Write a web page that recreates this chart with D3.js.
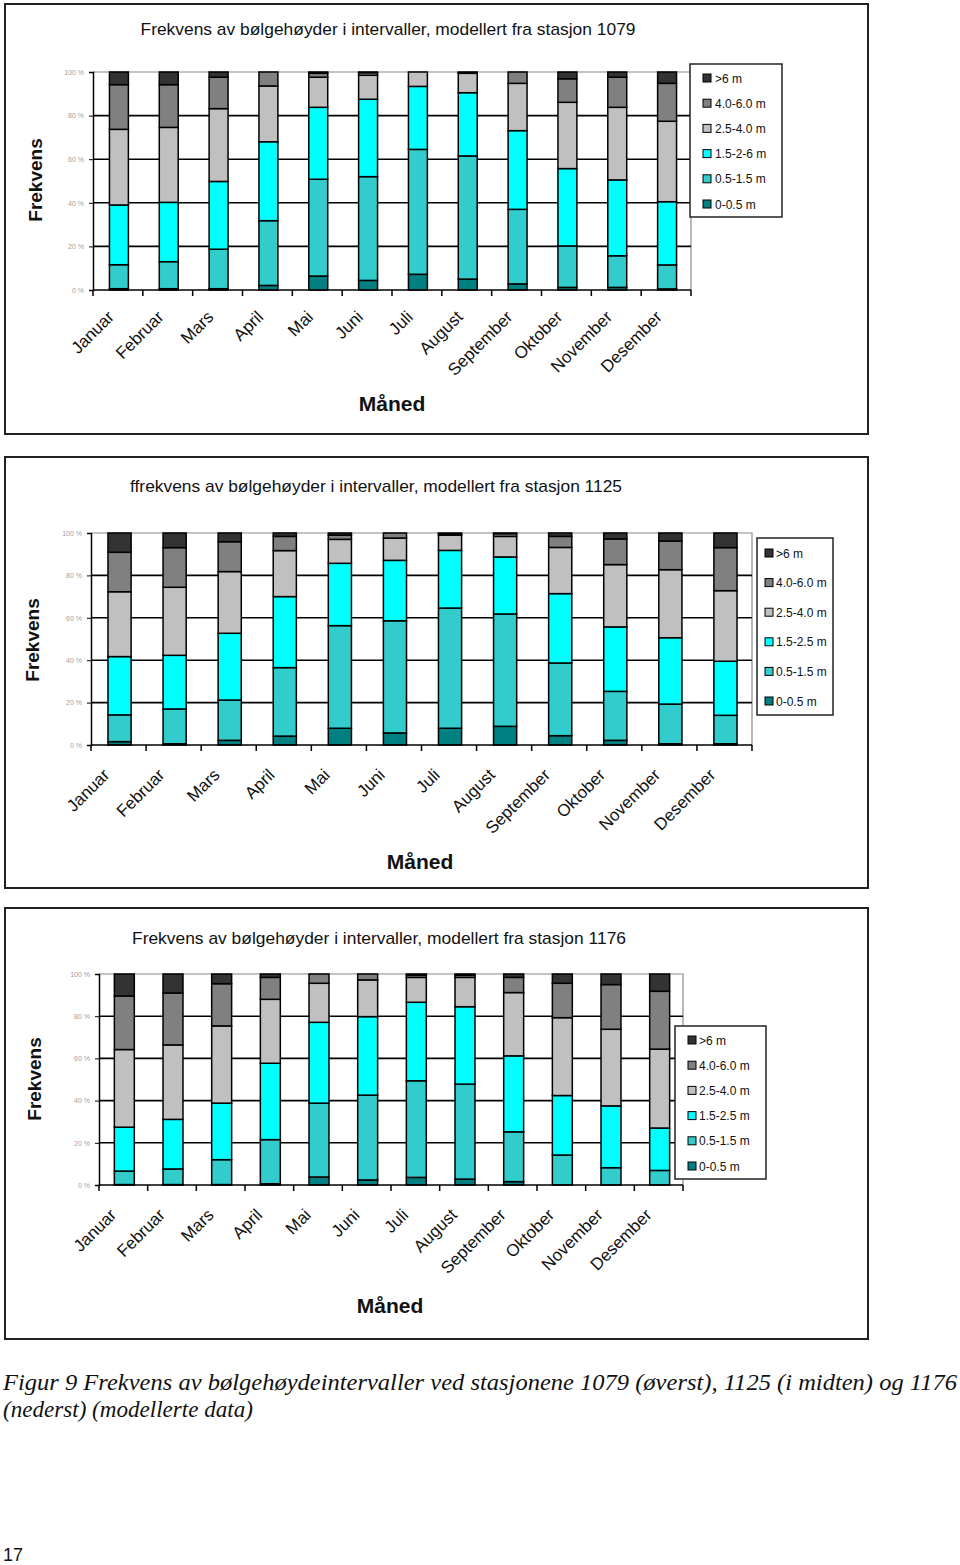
<!DOCTYPE html>
<html><head><meta charset="utf-8">
<script src="https://cdn.jsdelivr.net/npm/d3@7"></script>
<style>
html,body{margin:0;padding:0;background:#fff;}
svg{display:block;}
</style></head>
<body>
<svg id="page" width="960" height="1565"></svg>
<script>
// ---------- DATA ----------
const months = ["Januar","Februar","Mars","April","Mai","Juni","Juli","August","September","Oktober","November","Desember"];
const seriesKeys = ["s0","s1","s2","s3","s4","s5"]; // bottom -> top
const legend1079 = ["0-0.5 m","0.5-1.5 m","1.5-2-6 m","2.5-4.0 m","4.0-6.0 m",">6 m"];
const legendStd  = ["0-0.5 m","0.5-1.5 m","1.5-2.5 m","2.5-4.0 m","4.0-6.0 m",">6 m"];
const yTicks = [0,20,40,60,80,100];

// Station 1079 (% per month, per interval)
const st1079_0_05  = [0.6,0.6,0.6,2.1,6.4,4.4,7.2,5.0,2.8,1.2,1.2,0.5];
const st1079_05_15 = [11.0,12.4,18.1,29.7,44.4,47.6,57.3,56.5,34.2,19.0,14.5,11.0];
const st1079_15_25 = [27.4,27.2,31.1,36.2,33.0,35.5,28.9,29.0,36.1,35.5,34.8,29.0];
const st1079_25_40 = [34.7,34.4,33.4,25.6,13.8,11.0,6.6,8.9,21.7,30.4,33.3,36.9];
const st1079_40_60 = [20.5,19.6,14.4,6.4,1.8,1.2,0.0,0.3,5.2,10.8,13.8,17.4];
const st1079_gt6   = [5.8,5.8,2.4,0.0,0.6,0.3,0.0,0.3,0.0,3.1,2.4,5.2];

// Station 1125
const st1125_0_05  = [1.6,0.6,2.2,4.2,7.9,5.7,7.9,8.8,4.4,2.2,0.6,0.6];
const st1125_05_15 = [12.6,16.4,19.0,32.3,48.4,52.9,56.7,53.0,34.3,23.1,18.7,13.4];
const st1125_15_25 = [27.5,25.3,31.5,33.5,29.4,28.5,27.2,26.9,32.7,30.4,31.3,25.5];
const st1125_25_40 = [30.6,32.1,29.1,21.7,11.3,10.5,7.2,9.7,21.8,29.4,32.1,33.3];
const st1125_40_60 = [18.6,18.7,14.1,6.7,2.0,2.4,0.5,1.3,5.2,12.1,13.5,20.3];
const st1125_gt6   = [9.1,6.9,4.1,1.6,1.0,0.0,0.5,0.3,1.6,2.8,3.8,6.9];

// Station 1176
const st1176_0_05  = [0.2,0.2,0.2,0.6,3.8,2.4,3.6,2.8,1.6,0.0,0.0,0.0];
const st1176_05_15 = [6.4,7.4,11.8,20.9,35.0,40.2,45.8,45.0,23.6,14.2,8.2,6.9];
const st1176_15_25 = [20.8,23.5,26.8,36.2,38.3,37.2,37.2,36.7,36.0,28.2,29.3,20.1];
const st1176_25_40 = [36.8,35.3,36.6,30.3,18.5,17.4,11.8,13.9,30.0,36.9,36.3,37.4];
const st1176_40_60 = [25.4,24.6,20.0,10.4,4.4,2.8,1.1,1.0,7.2,16.3,21.2,27.4];
const st1176_gt6   = [10.4,9.0,4.6,1.6,0.0,0.0,0.5,0.6,1.6,4.4,5.0,8.2];

// ---------- STYLE ----------
const colors = ["#008080","#33cccc","#00ffff","#c0c0c0","#808080","#333333"];
const sansN = "'Liberation Sans Narrow','Arial Narrow','Liberation Sans',Arial,sans-serif";
const sans = "'Liberation Sans',Arial,sans-serif";
const serif = "'Liberation Serif','Times New Roman',serif";

function table(arrs){
  return months.map((m,i)=>{
    const o={month:m};
    seriesKeys.forEach((k,j)=>o[k]=arrs[j][i]);
    return o;
  });
}

const charts = [
  { title:"Frekvens av bølgehøyder i intervaller, modellert fra stasjon 1079", titleX:388, titleY:35, titleW:495,
    frame:[5,4,863,430], plot:{l:93,r:691,t:72,b:290}, barFrac:0.38, lab:{dx:-3,dy:28},
    legend:{x:690,y:64,w:92,h:153,row0:78,gap:25.2,sw:703,tx:715}, labels:legend1079,
    yTitle:{x:42,cy:180}, xTitle:{x:392,y:411}, data:table([st1079_0_05,st1079_05_15,st1079_15_25,st1079_25_40,st1079_40_60,st1079_gt6]) },
  { title:"ffrekvens av bølgehøyder i intervaller, modellert fra stasjon 1125", titleX:376, titleY:492, titleW:492,
    frame:[5,457,863,431], plot:{l:91,r:752,t:533,b:745}, barFrac:0.42, lab:{dx:-8,dy:31},
    legend:{x:757,y:538,w:76,h:177,row0:553,gap:29.6,sw:765,tx:776}, labels:legendStd,
    yTitle:{x:39,cy:640}, xTitle:{x:420,y:869}, data:table([st1125_0_05,st1125_05_15,st1125_15_25,st1125_25_40,st1125_40_60,st1125_gt6]) },
  { title:"Frekvens av bølgehøyder i intervaller, modellert fra stasjon 1176", titleX:379, titleY:944, titleW:494,
    frame:[5,908,863,431], plot:{l:99,r:683,t:974,b:1185}, barFrac:0.41, lab:{dx:-6,dy:31},
    legend:{x:675,y:1026,w:91,h:153,row0:1040,gap:25.2,sw:688,tx:699}, labels:legendStd,
    yTitle:{x:41,cy:1079}, xTitle:{x:390,y:1313}, data:table([st1176_0_05,st1176_05_15,st1176_15_25,st1176_25_40,st1176_40_60,st1176_gt6]) }
];

const svg = d3.select("#page");
const stack = d3.stack().keys(seriesKeys);

charts.forEach(c=>{
  const g = svg.append("g");
  // frame
  g.append("rect").attr("x",c.frame[0]).attr("y",c.frame[1]).attr("width",c.frame[2]).attr("height",c.frame[3])
    .attr("fill","#fff").attr("stroke","#222").attr("stroke-width",2);
  // title
  g.append("text").attr("x",c.titleX).attr("y",c.titleY).attr("text-anchor","middle")
    .attr("font-family",sansN).attr("font-size",17).attr("fill","#111")
    .attr("textLength",c.titleW).attr("lengthAdjust","spacingAndGlyphs").text(c.title);

  const p = c.plot;
  const x = d3.scaleBand().domain(months).range([p.l,p.r]).padding(0);
  const y = d3.scaleLinear().domain([0,100]).range([p.b,p.t]);

  // plot border (gray)
  g.append("path").attr("d",`M${p.l},${p.t}H${p.r}V${p.b}`).attr("fill","none").attr("stroke","#8a8a8a").attr("stroke-width",1.2);
  // gridlines
  g.append("g").selectAll("line").data(yTicks.filter(v=>v>0&&v<100)).join("line")
    .attr("x1",p.l).attr("x2",p.r).attr("y1",d=>y(d)).attr("y2",d=>y(d))
    .attr("stroke","#000").attr("stroke-width",1.6);

  // bars
  const series = stack(c.data);
  const bw = x.bandwidth()*c.barFrac;
  const sg = g.append("g").selectAll("g").data(series).join("g").attr("fill",(d,i)=>colors[i]);
  sg.selectAll("rect").data(d=>d).join("rect")
    .attr("x",d=>x(d.data.month)+x.bandwidth()/2-bw/2+1)
    .attr("y",d=>y(d[1]))
    .attr("width",bw)
    .attr("height",d=>Math.max(0,y(d[0])-y(d[1])))
    .attr("stroke","#000").attr("stroke-width",1.5);

  // y axis
  const ya = g.append("g").attr("transform",`translate(${p.l},0)`)
    .call(d3.axisLeft(y).tickValues(yTicks).tickSize(4).tickFormat(d=>d+" %"));
  ya.select(".domain").attr("stroke","#000").attr("stroke-width",1.5);
  ya.selectAll(".tick line").attr("stroke","#000");
  ya.selectAll(".tick text").attr("fill","#a0a0a0").attr("font-size",7).attr("font-family",sans).attr("x",-9);

  // x axis with ticks at category boundaries
  g.append("line").attr("x1",p.l).attr("x2",p.r).attr("y1",p.b).attr("y2",p.b).attr("stroke","#000").attr("stroke-width",1.6);
  const bounds = months.map(m=>x(m)).concat([x(months[months.length-1])+x.step()]);
  g.append("g").selectAll("line").data(bounds).join("line")
    .attr("x1",d=>d).attr("x2",d=>d).attr("y1",p.b).attr("y2",p.b+6).attr("stroke","#000").attr("stroke-width",1.5);
  g.append("g").selectAll("text").data(months).join("text")
    .attr("transform",d=>`translate(${x(d)+x.bandwidth()/2+c.lab.dx},${p.b+c.lab.dy}) rotate(-45)`)
    .attr("text-anchor","end").attr("font-family",sans).attr("font-size",17).attr("fill","#111")
    .text(d=>d);

  // axis titles
  g.append("text").attr("transform",`translate(${c.yTitle.x},${c.yTitle.cy}) rotate(-90)`)
    .attr("text-anchor","middle").attr("font-family",sans).attr("font-weight","bold").attr("font-size",19).attr("fill","#111").text("Frekvens");
  g.append("text").attr("x",c.xTitle.x).attr("y",c.xTitle.y).attr("text-anchor","middle")
    .attr("font-family",sansN).attr("font-weight","bold").attr("font-size",21).attr("fill","#111").text("Måned");

  // legend
  const L = c.legend;
  g.append("rect").attr("x",L.x).attr("y",L.y).attr("width",L.w).attr("height",L.h).attr("fill","#fff").attr("stroke","#222").attr("stroke-width",1.5);
  const items = seriesKeys.map((k,i)=>({k,i})).reverse();
  const lg = g.append("g").selectAll("g").data(items).join("g")
    .attr("transform",(d,j)=>`translate(0,${L.row0+j*L.gap})`);
  lg.append("rect").attr("x",L.sw).attr("y",-4).attr("width",8).attr("height",8)
    .attr("fill",d=>colors[d.i]).attr("stroke","#000").attr("stroke-width",1);
  lg.append("text").attr("x",L.tx).attr("y",4.5).attr("font-family",sansN).attr("font-size",12).attr("fill","#111")
    .text(d=>c.labels[d.i]);
});

// caption
svg.append("text").attr("x",3).attr("y",1390).attr("font-family",serif)
  .attr("font-style","italic").attr("font-size",23).attr("fill","#111")
  .attr("textLength",954).attr("lengthAdjust","spacingAndGlyphs")
  .text("Figur 9 Frekvens av bølgehøydeintervaller ved stasjonene 1079 (øverst), 1125 (i midten) og 1176");
svg.append("text").attr("x",3).attr("y",1417).attr("font-family",serif)
  .attr("font-style","italic").attr("font-size",23).attr("fill","#111")
  .attr("textLength",250).attr("lengthAdjust","spacingAndGlyphs")
  .text("(nederst) (modellerte data)");
svg.append("text").attr("x",3).attr("y",1561).attr("font-family",sans).attr("font-size",18).attr("fill","#111").text("17");
</script>
</body></html>
